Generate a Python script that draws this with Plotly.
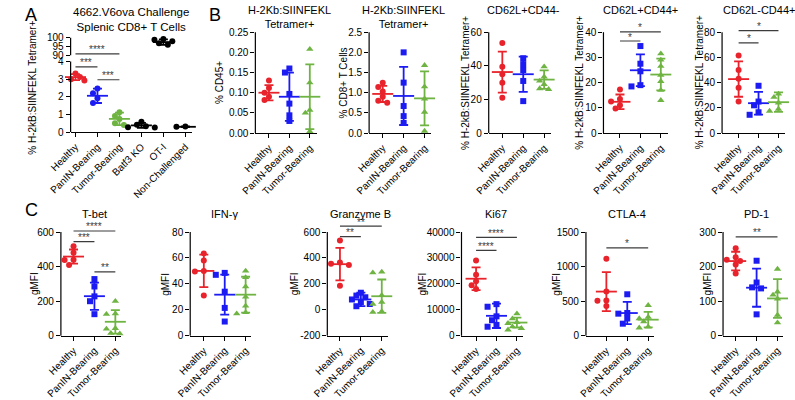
import plotly.graph_objects as go

W, H = 795, 400
FONT = "Liberation Sans, Arial, sans-serif"
RED, BLUE, GREEN, BLACK = "#e8232b", "#1b1bf2", "#6fb443", "#000000"
SIG = "#3c3c3c"

# ---------------- data ----------------
groups = ["Healthy", "PanIN-Bearing", "Tumor-Bearing"]

# A  4662.V6ova Challenge / Splenic CD8+ T Cells
a_cats = ["Healthy", "PanIN-Bearing", "Tumor-Bearing", "Batf3 KO", "OT-I", "Non-Challenged"]
a_pts = [[3.32, 3.22, 3.12, 3.00, 2.92], [2.48, 2.20, 1.92, 1.65],
         [1.12, 0.92, 0.75, 0.50, 0.40], [0.58, 0.42, 0.33, 0.28, 0.26],
         [99.2, 98.8, 98.0, 96.8, 96.0], [0.32, 0.30, 0.28, 0.31]]
a_mean = [3.12, 2.06, 0.75, 0.38, 97.5, 0.30]
a_sd = [0.17, 0.41, 0.36, 0.14, 1.6, 0.02]
a_sig = [(0, 2, 90.8, "****"), (0, 1, 3.70, "***"), (1, 2, 2.97, "***")]

# B  tetramer+ frequencies / phenotypes
b1_pts = [[0.13, 0.112, 0.10, 0.09, 0.082], [0.16, 0.15, 0.097, 0.073, 0.044, 0.030],
          [0.208, 0.125, 0.057, 0.050, 0.004]]
b1_mean = [0.100, 0.090, 0.090]
b1_sd = [0.019, 0.060, 0.080]

b2_pts = [[1.25, 1.14, 1.03, 0.90, 0.80, 0.75], [2.0, 1.25, 0.67, 0.42, 0.25],
          [1.68, 1.15, 0.85, 0.52, 0.05]]
b2_mean = [0.97, 0.92, 0.86]
b2_sd = [0.20, 0.72, 0.67]

b3_pts = [[53.5, 39.5, 35, 30, 21], [44.5, 41, 37.5, 31, 19], [39.5, 33.5, 31, 29, 26.5, 26]]
b3_mean = [36.3, 35.0, 31.8]
b3_sd = [12.2, 10.5, 5.5]

b4_pts = [[17.3, 13.5, 12.5, 11, 9.7], [34.5, 27.5, 24.5, 19, 18.5],
          [31.5, 29, 26.5, 23, 20.5, 17, 13]]
b4_mean = [12.4, 24.9, 23.2]
b4_sd = [2.9, 6.3, 6.3]
b4_sig = [(0, 1, 36.5, "*"), (0, 2, 40.1, "*")]

b5_pts = [[61.5, 50, 43, 36, 25], [37.5, 25, 22, 16.5, 14.5], [31, 28.5, 24, 19, 17.5]]
b5_mean = [42.8, 23.7, 24.5]
b5_sd = [14.0, 9.0, 7.7]
b5_sig = [(0, 1, 71.5, "*"), (0, 2, 81.3, "*")]

# C  gMFI of markers
c1_pts = [[518, 480, 440, 438, 410], [328, 285, 228, 200, 125], [200, 128, 125, 43, 40, 15, 12]]
c1_mean = [458, 229, 81]
c1_sd = [41, 79, 68]
c1_sig = [(0, 2, 606, "****"), (0, 1, 545, "***"), (1, 2, 370, "**")]

c2_pts = [[63.5, 58, 50, 49.5, 31], [48.5, 47, 34, 21.5, 11], [50, 45, 38, 30, 23, 18, 17]]
c2_mean = [50, 31.7, 31.7]
c2_sd = [12.5, 15.4, 13.8]

c3_pts = [[535, 365, 355, 345, 185], [132, 110, 97, 80, 60, 45, 28],
          [292, 286, 112, 60, 45, -12, -18]]
c3_mean = [352, 80, 105]
c3_sd = [125, 52, 129]
c3_sig = [(0, 1, 565, "**"), (0, 2, 645, "**")]

c4_pts = [[29000, 23500, 21000, 19500, 18000], [12200, 11200, 7500, 6000, 4200, 3500],
          [8500, 6600, 5200, 4800, 3500, 2900, 2300]]
c4_mean = [22000, 7700, 5100]
c4_sd = [4400, 4700, 1900]
c4_sig = [(0, 1, 32900, "****"), (0, 2, 37900, "****")]

c5_pts = [[1115, 640, 510, 505, 430], [600, 330, 320, 250, 175], [440, 270, 250, 205, 130, 115]]
c5_mean = [639, 329, 233]
c5_sd = [282, 161, 112]
c5_sig = [(0, 2, 1270, "*")]

c6_pts = [[253, 227, 220, 216, 206, 180], [217, 154, 140, 137, 62], [193, 127, 118, 107, 60, 38]]
c6_mean = [216, 139, 108]
c6_sd = [27, 55, 56]
c6_sig = [(0, 2, 286, "**")]

# tick labels
b1_ticks = ["0.00", "0.05", "0.10", "0.15", "0.20", "0.25"]
b2_ticks = ["0.0", "0.5", "1.0", "1.5", "2.0", "2.5"]

# ---------------- figure ----------------
fig = go.Figure()
layout = dict(width=W, height=H, margin=dict(l=0, r=0, t=0, b=0),
              paper_bgcolor="white", plot_bgcolor="white", showlegend=False,
              font=dict(family=FONT, color="black"))
shapes, annots = [], []
TICK = dict(ticks="outside", ticklen=4, tickwidth=1.2, tickcolor="black",
            tickfont=dict(size=10, color="black"))


def ids(n):
    return ("x", "y") if n == 1 else (f"x{n}", f"y{n}")


def add_axes(n, L, c0, s, R, cats, ptop, pbot, y0, ytop, y1, tickvals, ticktext):
    xid, yid = ids(n)
    k = (pbot - ptop) / (ytop - y0)
    ptop_ext = ptop - (y1 - ytop) * k
    xa = dict(domain=[L / W, R / W], range=[-(c0 - L) / s, (R - c0) / s], anchor=yid,
              showgrid=False, zeroline=False, fixedrange=True)
    if cats:
        xa.update(showline=True, linecolor="black", linewidth=1.2, tickvals=list(range(len(cats))),
                  ticktext=cats, tickangle=-45, **TICK)
    else:
        xa.update(visible=False)
    ya = dict(domain=[1 - pbot / H, 1 - ptop_ext / H], range=[y0, y1], anchor=xid,
              showgrid=False, zeroline=False, showline=False, fixedrange=True,
              tickvals=tickvals, ticktext=ticktext, **TICK)
    key = "" if n == 1 else str(n)
    layout["xaxis" + key] = xa
    layout["yaxis" + key] = ya
    shapes.append(dict(type="line", xref=xid + " domain", yref=yid + " domain", x0=0, x1=0,
                       y0=0, y1=(ytop - y0) / (y1 - y0), line=dict(color="black", width=1.2)))
    return k


def swarm(vals, k, s, d=5.4):
    placed, xs = [], [0.0] * len(vals)
    for i in sorted(range(len(vals)), key=lambda j: -vals[j]):
        y = vals[i] * k
        for off in [0, -1, 1, -2, 2, -3, 3]:
            x = off * d * 0.85
            if all((x - px) ** 2 + (y - py) ** 2 >= d * d for px, py in placed):
                break
        placed.append((x, y))
        xs[i] = x / s
    return xs


def add_group(n, i, pts, mean, sd, color, symbol, k, s):
    xid, yid = ids(n)
    offs = swarm(pts, k, s)
    size = 6.5 if symbol == "triangle-up" else 6
    fig.add_trace(go.Scatter(x=[i + o for o in offs], y=pts, xaxis=xid, yaxis=yid, mode="markers",
                             marker=dict(symbol=symbol, size=size, color=color, line=dict(width=0)),
                             cliponaxis=False, hoverinfo="skip"))
    fig.add_trace(go.Scatter(x=[i], y=[mean], xaxis=xid, yaxis=yid, mode="markers",
                             marker=dict(symbol="line-ew", size=15, color=color,
                                         line=dict(color=color, width=1.8)),
                             error_y=dict(type="data", array=[sd], color=color, thickness=1.8, width=4.5),
                             cliponaxis=False, hoverinfo="skip"))


def add_sig(n, sig):
    xid, yid = ids(n)
    for a, b, y, txt in sig:
        shapes.append(dict(type="line", xref=xid, yref=yid, x0=a, x1=b, y0=y, y1=y,
                           line=dict(color=SIG, width=1.2)))
        annots.append(dict(x=(a + b) / 2, y=y, xref=xid, yref=yid, text=txt, showarrow=False,
                           xanchor="center", yanchor="middle", yshift=4,
                           font=dict(size=10, color=SIG)))


def text(x, y, t, size=11, angle=0, xanchor="center", yanchor="middle", yshift=0):
    annots.append(dict(x=x / W, y=1 - y / H, xref="paper", yref="paper", text=t, showarrow=False,
                       textangle=angle, xanchor=xanchor, yanchor=yanchor, yshift=yshift,
                       font=dict(size=size)))


# ---- panel A (broken y axis) ----
a_colors = [RED, BLUE, GREEN, BLACK, BLACK, BLACK]
kA = add_axes(1, 50, 55, 22.6, 175, a_cats, 57.3, 130, 0, 4, 4, [0, 1, 2, 3, 4], ["0", "1", "2", "3", "4"])
kT = add_axes(2, 50, 55, 22.6, 175, None, 32.7, 50.7, 90, 100, 100, [90, 95, 100], ["90", "95", "100"])
for i in range(len(a_cats)):
    top = a_mean[i] > 4
    add_group(2 if top else 1, i, a_pts[i], a_mean[i], a_sd[i], a_colors[i], "circle",
              kT if top else kA, 22.6)
add_sig(2, [t for t in a_sig if t[2] > 4])
add_sig(1, [t for t in a_sig if t[2] <= 4])
text(112, 0, "4662.V6ova Challenge<br>Splenic CD8+ T Cells", size=11.5, yanchor="top", yshift=2)
text(10.5, 84, "% H-2kB:SIINFEKL Tetramer+", size=10, angle=-90)

# ---- panels B and C ----
COLORS = [RED, BLUE, GREEN]
SYMS = ["circle", "square", "triangle-up"]
panels = [
    # n, pts, mean, sd, sig, L, c0, s, R, ptop, pbot, y0, ytop, y1, tickvals, ticktext, ytitle, ytitle_x, title
    (3, b1_pts, b1_mean, b1_sd, [], 240, 254, 21, 303, 27, 131, 0, 0.25, 0.25,
     [0, 0.05, 0.1, 0.15, 0.2, 0.25], b1_ticks, "% CD45+", 203, "H-2Kb:SIINFEKL<br>Tetramer+"),
    (4, b2_pts, b2_mean, b2_sd, [], 357, 371, 21.5, 421, 27, 131, 0, 2.5, 2.5,
     [0, 0.5, 1, 1.5, 2, 2.5], b2_ticks, "% CD8+ T Cells", 331, "H-2Kb:SIINFEKL<br>Tetramer+"),
    (5, b3_pts, b3_mean, b3_sd, [], 480, 494, 21.5, 544, 27, 131, 0, 60, 60,
     [0, 20, 40, 60], None, "% H-2kB:SIINFEKL Tetramer+", 456, "CD62L+CD44-"),
    (6, b4_pts, b4_mean, b4_sd, b4_sig, 598, 615, 21, 664, 27, 131, 0, 40, 41,
     [0, 10, 20, 30, 40], None, "% H-2kB:SIINFEKL Tetramer+", 573, "CD62L+CD44+"),
    (7, b5_pts, b5_mean, b5_sd, b5_sig, 720, 737, 20.5, 785, 27, 131, 0, 80, 82,
     [0, 20, 40, 60, 80], None, "% H-2kB:SIINFEKL Tetramer+", 697, "CD62L-CD44+"),
    (8, c1_pts, c1_mean, c1_sd, c1_sig, 40, 53, 21.5, 102, 233, 340, 0, 600, 615,
     [0, 200, 400, 600], None, "gMFI", 13.5, "T-bet"),
    (9, c2_pts, c2_mean, c2_sd, [], 173, 187, 21.5, 236, 233, 340, 0, 80, 80,
     [0, 20, 40, 60, 80], None, "gMFI", 148, "IFN-γ"),
    (10, c3_pts, c3_mean, c3_sd, c3_sig, 314, 327, 21.5, 376, 233, 340, -200, 600, 655,
     [-200, 0, 200, 400, 600], None, "gMFI", 281, "Granzyme B"),
    (11, c4_pts, c4_mean, c4_sd, c4_sig, 452, 467, 21, 515, 233, 340, 0, 40000, 40000,
     [0, 10000, 20000, 30000, 40000], None, "gMFI", 412, "Ki67"),
    (12, c5_pts, c5_mean, c5_sd, c5_sig, 580, 601, 21.5, 650, 233, 340, 0, 1500, 1500,
     [0, 500, 1000, 1500], None, "gMFI", 550, "CTLA-4"),
    (13, c6_pts, c6_mean, c6_sd, c6_sig, 721, 734, 21.5, 783, 233, 340, 0, 300, 300,
     [0, 100, 200, 300], None, "gMFI", 705, "PD-1"),
]

for (n, pts, mean, sd, sig, L, c0, s, R, ptop, pbot, y0, ytop, y1,
     tv, tt, ytitle, ytx, title) in panels:
    k = add_axes(n, L, c0, s, R, groups, ptop, pbot, y0, ytop, y1, tv,
                 tt if tt else [str(v) for v in tv])
    for i in range(3):
        add_group(n, i, pts[i], mean[i], sd[i], COLORS[i], SYMS[i], k, s)
    add_sig(n, sig)
    text(ytx, (ptop + pbot) / 2, ytitle, size=10, angle=-90)
    cx = c0 + s
    if ptop < 100:
        text(cx, 0, title, size=11, yanchor="top", yshift=4)
    else:
        text(cx, 214, title, size=11)

# panel letters
for t, x, y in [("A", 1, 0), ("B", 190, 0), ("C", 1, 201)]:
    text(x, y, t, size=18, xanchor="left", yanchor="top", yshift=3)

layout["shapes"] = shapes
layout["annotations"] = annots
fig.update_layout(**layout)
# the page body has a default 8px margin; drop it so the figure sits at the window corner
fig.write_html("out.html", config={"displayModeBar": False},
               post_script="document.body.style.margin='0';")
